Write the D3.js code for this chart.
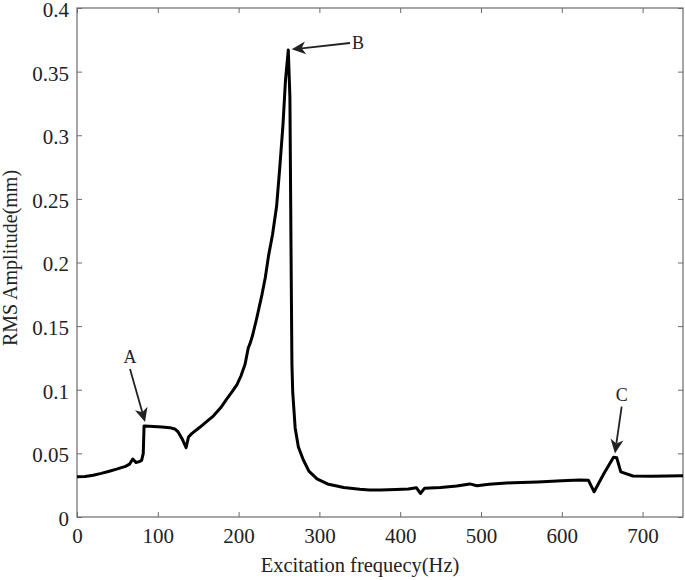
<!DOCTYPE html>
<html>
<head>
<meta charset="utf-8">
<script src="https://cdn.jsdelivr.net/npm/d3@7"></script>
<style>
  body { margin: 0; background: #fff; }
  svg { display: block; font-family: "Liberation Serif", "Times New Roman", serif; }
</style>
</head>
<body>
<svg width="685" height="580"></svg>
<script>
// frequency (Hz) and RMS amplitude (mm)
const freq = [0, 10, 20, 30, 40, 50, 60, 65, 69, 73, 77, 80, 82, 83, 95, 105, 115, 121, 125, 130, 135, 138, 142,
  152, 160, 169, 178, 185, 192, 198, 203, 208, 212, 214, 217, 222, 229, 233, 237, 242, 247, 251, 255, 258, 261.5,
  263.5, 265, 266, 267, 270, 274, 280, 287, 297, 310, 330, 350, 362, 375, 395, 410, 420, 425, 430, 450, 470, 486,
  495, 510, 540, 570, 600, 622, 633, 640, 652, 664, 668, 673, 688, 710, 730, 750];
const amp = [0.0316, 0.0318, 0.0328, 0.0343, 0.036, 0.0378, 0.0398, 0.0415, 0.0456, 0.0428, 0.0435, 0.0445, 0.05, 0.0715,
  0.0712, 0.0708, 0.0702, 0.0692, 0.067, 0.0615, 0.0545, 0.0628, 0.0655,
  0.0705, 0.0748, 0.0795, 0.086, 0.0925, 0.0985, 0.104, 0.111, 0.12, 0.133, 0.136, 0.142, 0.155, 0.175, 0.188, 0.205,
  0.222, 0.244, 0.275, 0.309, 0.343, 0.367,
  0.33, 0.2, 0.12, 0.098, 0.07, 0.055, 0.045, 0.036, 0.03, 0.026, 0.0232, 0.0218, 0.0212, 0.0213, 0.0216, 0.022, 0.023,
  0.0185, 0.0225, 0.0232, 0.0243, 0.026, 0.0246, 0.0258, 0.027, 0.0276, 0.0285, 0.029, 0.0288, 0.0198, 0.034, 0.047,
  0.0465, 0.0355, 0.0322, 0.032, 0.0323, 0.0325];

const xTicks = [0, 100, 200, 300, 400, 500, 600, 700];
const yTicks = [0, 0.05, 0.1, 0.15, 0.2, 0.25, 0.3, 0.35, 0.4];

// annotations: arrow tip (on curve), arrow tail, label
const notes = [
  {label: 'A', tip: [84.2, 0.0747], tail: [65.6, 0.1163]},
  {label: 'B', tip: [265.7, 0.3675], tail: [337.9, 0.3725]},
  {label: 'C', tip: [665.8, 0.0500], tail: [674.1, 0.0867]}
];

const data = freq.map((f, i) => ({f: f, a: amp[i]}));

const svg = d3.select('svg');
const margin = {top: 8, right: 2, bottom: 63, left: 77};
const width = +svg.attr('width') - margin.left - margin.right;
const height = +svg.attr('height') - margin.top - margin.bottom;

const x = d3.scaleLinear().domain([0, 750]).range([0, width]);
const y = d3.scaleLinear().domain([0, 0.4]).range([height, 0]);

const g = svg.append('g').attr('transform', `translate(${margin.left},${margin.top})`);

const axisCol = '#6b6b6b';
const styleAxis = sel => {
  sel.select('.domain').remove();
  sel.selectAll('.tick line').attr('stroke', axisCol);
  sel.selectAll('.tick text').attr('fill', '#222').style('font-size', '21px')
    .style('font-family', '"Liberation Serif", serif');
};

g.append('g').attr('transform', `translate(0,${height})`)
  .call(d3.axisBottom(x).tickValues(xTicks).tickSize(-5).tickPadding(11).tickFormat(d3.format('d')))
  .call(styleAxis);
g.append('g')
  .call(d3.axisTop(x).tickValues(xTicks).tickSize(-5).tickFormat(''))
  .call(styleAxis);
g.append('g')
  .call(d3.axisLeft(y).tickValues(yTicks).tickSize(-5).tickPadding(8).tickFormat(d => d3.format('')(+d.toFixed(2))))
  .call(styleAxis)
  .selectAll('.tick text').attr('dy', '0.4em');
g.append('g').attr('transform', `translate(${width},0)`)
  .call(d3.axisRight(y).tickValues(yTicks).tickSize(-5).tickFormat(''))
  .call(styleAxis);

g.append('rect')
  .attr('width', width).attr('height', height)
  .attr('fill', 'none').attr('stroke', axisCol).attr('stroke-width', 1.2);

const line = d3.line().x(d => x(d.f)).y(d => y(d.a));
g.append('path').datum(data)
  .attr('d', line)
  .attr('fill', 'none')
  .attr('stroke', '#000')
  .attr('stroke-width', 3)
  .attr('stroke-linejoin', 'round');

// arrows
const headLen = 14, headHalf = 6.5, notch = 4;
notes.forEach(n => {
  const tx = x(n.tip[0]), ty = y(n.tip[1]);
  const sx = x(n.tail[0]), sy = y(n.tail[1]);
  const ang = Math.atan2(ty - sy, tx - sx);
  const ux = Math.cos(ang), uy = Math.sin(ang);
  const px = -uy, py = ux;
  const bx = tx - ux * headLen, by = ty - uy * headLen;
  g.append('line')
    .attr('x1', sx).attr('y1', sy)
    .attr('x2', tx - ux * (headLen - notch)).attr('y2', ty - uy * (headLen - notch))
    .attr('stroke', '#222').attr('stroke-width', 1.8);
  g.append('path')
    .attr('d', `M${tx},${ty}L${bx + px * headHalf},${by + py * headHalf}L${tx - ux * (headLen - notch)},${ty - uy * (headLen - notch)}L${bx - px * headHalf},${by - py * headHalf}Z`)
    .attr('fill', '#222');
  const lbl = g.append('text').text(n.label)
    .style('font-size', '18px').attr('fill', '#222');
  if (n.label === 'B') {
    lbl.attr('x', sx + 2).attr('y', sy + 6);
  } else {
    lbl.attr('x', sx).attr('y', sy - 6).attr('text-anchor', 'middle');
  }
});

svg.append('text')
  .attr('x', 360).attr('y', 572)
  .attr('text-anchor', 'middle')
  .style('font-size', '20.5px').attr('fill', '#222')
  .text('Excitation frequecy(Hz)');

svg.append('text')
  .attr('transform', 'translate(17,258) rotate(-90)')
  .attr('text-anchor', 'middle')
  .style('font-size', '20px').attr('fill', '#222')
  .text('RMS Amplitude(mm)');
</script>
</body>
</html>
